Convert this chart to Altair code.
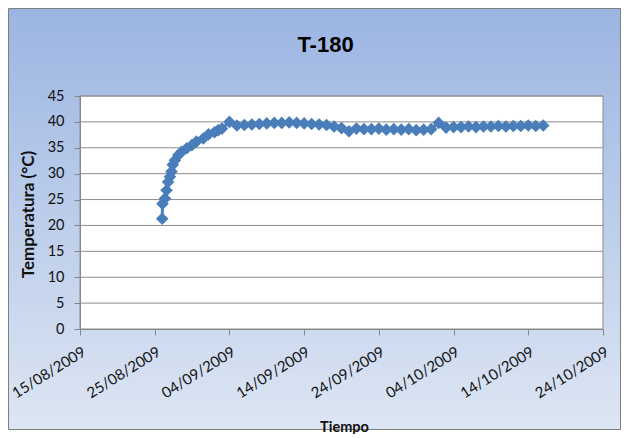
import altair as alt
import pandas as pd

# ---------------- data ----------------
times = [
    "2009-08-26T00:00", "2009-08-26T01:00", "2009-08-26T09:00", "2009-08-26T14:00",
    "2009-08-26T19:00", "2009-08-27T01:00", "2009-08-27T06:00", "2009-08-27T10:00",
    "2009-08-27T17:00", "2009-08-28T04:00", "2009-08-28T14:00", "2009-08-29T07:00",
    "2009-08-29T23:00", "2009-08-30T14:00", "2009-08-31T12:00", "2009-09-01T05:00",
    "2009-09-02T00:00", "2009-09-02T12:00", "2009-09-03T00:00",
    "2009-09-04T00:00", "2009-09-05T00:00", "2009-09-06T00:00", "2009-09-07T00:00",
    "2009-09-08T00:00", "2009-09-09T00:00", "2009-09-10T00:00", "2009-09-11T00:00",
    "2009-09-12T00:00", "2009-09-13T00:00", "2009-09-14T00:00", "2009-09-15T00:00",
    "2009-09-16T00:00", "2009-09-17T00:00", "2009-09-18T00:00", "2009-09-19T00:00",
    "2009-09-20T00:00", "2009-09-21T00:00", "2009-09-22T00:00", "2009-09-23T00:00",
    "2009-09-24T00:00", "2009-09-25T00:00", "2009-09-26T00:00", "2009-09-27T00:00",
    "2009-09-28T00:00", "2009-09-29T00:00", "2009-09-30T00:00", "2009-10-01T00:00",
    "2009-10-02T00:00", "2009-10-03T00:00", "2009-10-04T00:00", "2009-10-05T00:00",
    "2009-10-06T00:00", "2009-10-07T00:00", "2009-10-08T00:00", "2009-10-09T00:00",
    "2009-10-10T00:00", "2009-10-11T00:00", "2009-10-12T00:00", "2009-10-13T00:00",
    "2009-10-14T00:00", "2009-10-15T00:00", "2009-10-16T00:00",
]
temps = [
    21.3, 24.2, 25.2, 26.8, 28.4, 29.4, 30.4, 31.7, 32.6, 33.6, 34.2, 34.9, 35.5,
    36.2, 36.8, 37.6, 38.0, 38.4, 38.7,
    40.0, 39.3, 39.4, 39.5, 39.6, 39.7, 39.8, 39.8, 39.9, 39.8, 39.7, 39.6, 39.5,
    39.4, 39.1, 38.8, 38.2, 38.7, 38.6, 38.6, 38.7, 38.5, 38.6, 38.5, 38.6, 38.4,
    38.5, 38.6, 39.8, 38.9, 39.0, 39.0, 39.1, 39.0, 39.1, 39.1, 39.2, 39.1, 39.2,
    39.2, 39.3, 39.2, 39.3,
]
x_ticks = [(2009, 8, 15), (2009, 8, 25), (2009, 9, 4), (2009, 9, 14),
           (2009, 9, 24), (2009, 10, 4), (2009, 10, 14), (2009, 10, 24)]
y_ticks = [0, 5, 10, 15, 20, 25, 30, 35, 40, 45]
title_text = "T-180"
x_title = "Tiempo"
y_title = "Temperatura (°C)"

# ---------------- layout / style ----------------
W, H = 523, 233
SERIES = "#4A7EBB"
GRID = "#8C8C8C"
LABEL_FONT = "Lato"

df = pd.DataFrame({"Tiempo": times, "Temp": temps})
one = pd.DataFrame({"k": [0]})
grid_df = pd.DataFrame({"Temp": y_ticks[1:]})

def dt(t):
    return alt.DateTime(year=t[0], month=t[1], date=t[2])

x_scale = alt.Scale(domain=[dt(x_ticks[0]), dt(x_ticks[-1])])
y_scale = alt.Scale(domain=[y_ticks[0], y_ticks[-1]], nice=False, zero=False)

x_axis = alt.Axis(
    values=[dt(t) for t in x_ticks], format="%d/%m/%Y", labelAngle=-32,
    labelFont=LABEL_FONT, labelFontSize=15, labelColor="#111111",
    labelFlush=False, labelOverlap=False, labelPadding=9,
    tickColor="#868686", domainColor="#868686", tickSize=6, grid=False,
    title=x_title, titleFont=LABEL_FONT, titleFontSize=14.5, titleFontWeight="bold",
    titleColor="#111111", titleX=264, titleY=102, titleAlign="center",
    titleBaseline="alphabetic", zindex=1,
)
y_axis = alt.Axis(
    values=y_ticks, labelFont=LABEL_FONT, labelFontSize=14.5, labelColor="#111111",
    labelPadding=10, tickColor="#868686", domainColor="#868686", tickSize=6,
    grid=False, title=y_title, titleFont=LABEL_FONT, titleFontSize=17,
    titleFontWeight="bold", titleColor="#111111", titleAngle=-90, titleX=-47,
    titleY=118, titleAlign="center", titleBaseline="alphabetic", zindex=1,
)

x_enc = alt.X("Tiempo:T", scale=x_scale, axis=x_axis)
y_enc = alt.Y("Temp:Q", scale=y_scale, axis=y_axis)

bg = alt.Chart(one).mark_rect(
    fill=alt.Gradient(
        gradient="linear",
        stops=[alt.GradientStop(color="#9BB5E2", offset=0),
               alt.GradientStop(color="#DDE6F3", offset=1)],
        x1=0, x2=0, y1=0, y2=1,
    ),
    stroke="#7F7F7F", strokeWidth=1,
).encode(x=alt.value(-71.5), x2=alt.value(540.5), y=alt.value(-87.5), y2=alt.value(333.5))

plot_bg = alt.Chart(one).mark_rect(fill="white", stroke=GRID, strokeWidth=1).encode(
    x=alt.value(0), x2=alt.value(W), y=alt.value(0), y2=alt.value(H)
)

grid = alt.Chart(grid_df).mark_rule(color=GRID, strokeWidth=1).encode(y=y_enc)

title = alt.Chart(one).mark_text(
    text=title_text, font="Liberation Sans", fontSize=22, fontWeight="bold",
    color="#000000", align="center", baseline="alphabetic",
).encode(x=alt.value(245.5), y=alt.value(-44))

line = alt.Chart(df).mark_line(color=SERIES, strokeWidth=3).encode(x=x_enc, y=y_enc)
pts = alt.Chart(df).mark_point(
    shape="diamond", filled=True, size=160, color=SERIES, opacity=1
).encode(x=x_enc, y=y_enc)

chart = alt.layer(bg, plot_bg, grid, title, line, pts).properties(
    width=W, height=H, padding=0
).configure_view(stroke=None)

chart.save("out.html", embed_options={"renderer": "svg", "actions": False})
